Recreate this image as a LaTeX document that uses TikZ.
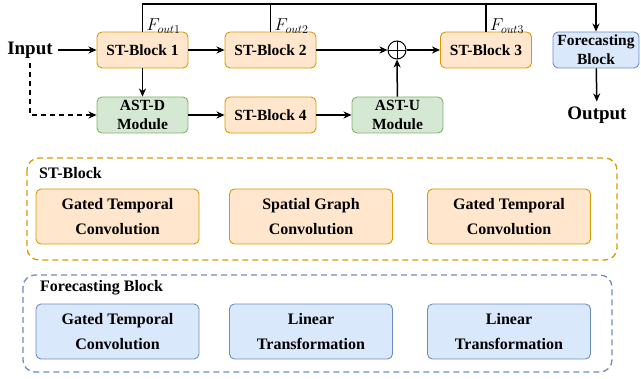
\documentclass[tikz,border=0pt]{standalone}
\usepackage{fontspec}
\setmainfont{Liberation Serif}
\usetikzlibrary{arrows.meta}

\definecolor{orfill}{HTML}{FFE6CC}
\definecolor{ordraw}{HTML}{D79B00}
\definecolor{grfill}{HTML}{D5E8D4}
\definecolor{grdraw}{HTML}{82B366}
\definecolor{blfill}{HTML}{DAE8FC}
\definecolor{bldraw}{HTML}{6C8EBF}

\tikzset{
  blk/.style={rectangle, rounded corners=5pt, line width=0.9pt, inner sep=0pt,
    align=center, font=\fontsize{15.5}{19}\selectfont\bfseries},
  orblk/.style={blk, draw=ordraw, fill=orfill, minimum width=91pt, minimum height=36pt},
  grblk/.style={blk, draw=grdraw, fill=grfill, minimum width=91pt, minimum height=36pt},
  blblk/.style={blk, draw=bldraw, fill=blfill, minimum width=86pt, minimum height=36pt},
  part/.style={blk, minimum width=163pt, minimum height=55pt,
    font=\fontsize{16}{25}\selectfont\bfseries},
  orpart/.style={part, draw=ordraw, fill=orfill},
  blpart/.style={part, draw=bldraw, fill=blfill},
  group/.style={rectangle, rounded corners=12pt, line width=1.3pt,
    dash pattern=on 6pt off 4pt},
  grouptitle/.style={anchor=west, inner sep=0pt, font=\fontsize{16}{18}\selectfont\bfseries},
  io/.style={inner sep=5pt, font=\fontsize{19}{22}\selectfont\bfseries},
  flab/.style={anchor=south west, inner sep=0pt, font=\fontsize{17.5}{19}\selectfont},
  conn/.style={line width=1.5pt, -{Stealth[length=8pt,width=7pt,inset=2.5pt]}},
  wire/.style={line width=1.5pt}
}

\begin{document}
\begin{tikzpicture}[x=1pt, y=-1pt]
  \useasboundingbox (0,0) rectangle (641,379);

  % main pipeline
  \node[io] (input) at (30,50) {Input};
  \node[orblk] (stb1) at (142.5,50) {ST-Block 1};
  \node[orblk] (stb2) at (270.5,50) {ST-Block 2};
  \node[circle, draw, line width=1pt, minimum size=18pt, inner sep=0pt,
        path picture={\draw[line width=0.8pt]
          (path picture bounding box.north) -- (path picture bounding box.south)
          (path picture bounding box.west) -- (path picture bounding box.east);}]
        (plus) at (397,50) {};
  \node[orblk] (stb3) at (486,50) {ST-Block 3};
  \node[blblk] (fb) at (596,50) {Forecasting\\Block};
  \node[io] (output) at (597,115) {Output};

  \node[grblk] (astd) at (142.5,115) {AST-D\\Module};
  \node[orblk] (stb4) at (270.5,115) {ST-Block 4};
  \node[grblk] (astu) at (397.5,115) {AST-U\\Module};

  % skip outputs
  \node[flab] (f1) at ([xshift=4pt,yshift=-2pt]stb1.north) {$F_{out1}$};
  \node[flab] (f2) at ([xshift=4pt,yshift=-2pt]stb2.north) {$F_{out2}$};
  \node[flab] (f3) at ([xshift=4pt,yshift=-2pt]stb3.north) {$F_{out3}$};

  % connectors
  \coordinate (bus) at (fb.north |- 0,4);
  \draw[conn] (input) -- (stb1);
  \draw[conn] (stb1) -- (stb2);
  \draw[conn] (stb2) -- (plus);
  \draw[conn] (plus) -- (stb3);
  \draw[conn] (stb1) -- (astd);
  \draw[conn] (astd) -- (stb4);
  \draw[conn] (stb4) -- (astu);
  \draw[conn] (astu) -- (plus);
  \draw[conn] (fb) -- (output);
  \draw[conn, dash pattern=on 5pt off 4pt] (input.south) |- (astd.west);
  \draw[conn, line join=miter] (stb1.north) |- (bus) -- (fb.north);
  \draw[wire] (stb2.north) -- (stb2.north |- bus);
  \draw[wire] (stb3.north) -- (stb3.north |- bus);

  % ST-Block detail
  \draw[group, draw=ordraw] (27,158) rectangle (617,260);
  \node[grouptitle] (sttitle) at (39,173) {ST-Block};
  \node[orpart] (g1) at (117.5,216.5) {Gated Temporal\\Convolution};
  \node[orpart] (g2) at (311,216.5) {Spatial Graph\\Convolution};
  \node[orpart] (g3) at (509,216.5) {Gated Temporal\\Convolution};

  % Forecasting Block detail
  \draw[group, draw=bldraw] (23,275) rectangle (612,372);
  \node[grouptitle] (fbtitle) at (40,288) {Forecasting Block};
  \node[blpart] (h1) at (117.5,331.5) {Gated Temporal\\Convolution};
  \node[blpart] (h2) at (311,331.5) {Linear\\Transformation};
  \node[blpart] (h3) at (509,331.5) {Linear\\Transformation};
\end{tikzpicture}
\end{document}
